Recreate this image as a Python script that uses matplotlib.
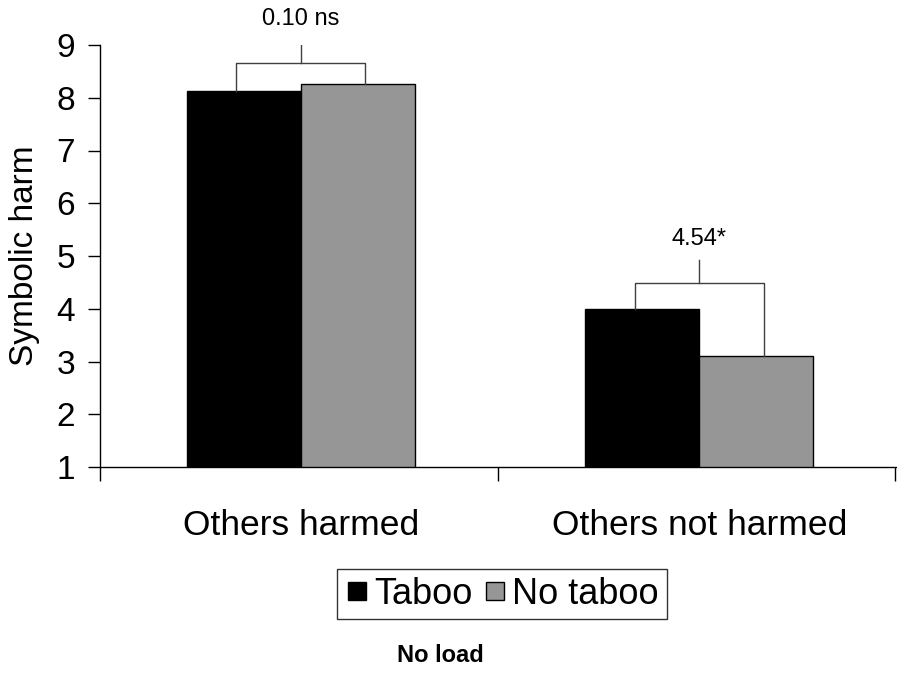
import matplotlib.pyplot as plt
from matplotlib.lines import Line2D

plt.rcParams['font.family'] = ['Liberation Sans', 'DejaVu Sans']

# datos
categorias = ["Others harmed", "Others not harmed"]
taboo = [8.12, 3.99]
no_taboo = [8.26, 3.11]
etiquetas_sig = ["0.10 ns", "4.54*"]
altura_corchete = [8.65, 4.49]
altura_tallo = [9.09, 4.92]
altura_texto = [9.5, 5.33]

fig = plt.figure(figsize=(8.97, 6.82), dpi=100)
ax = fig.add_axes([100 / 897, 1 - 467 / 682, 797 / 897, 422 / 682])

ancho = 0.286
x = [0, 1]
ax.bar([i - ancho / 2 for i in x], taboo, ancho, color="black",
       edgecolor="black", linewidth=1, label="Taboo")
ax.bar([i + ancho / 2 for i in x], no_taboo, ancho, color="#969696",
       edgecolor="black", linewidth=1, label="No taboo")

# corchetes de significancia
off = 0.162
for i in range(2):
    xl, xr = x[i] - off, x[i] + off
    ax.plot([xl, xl, xr, xr], [taboo[i], altura_corchete[i], altura_corchete[i], no_taboo[i]],
            color="#404040", linewidth=1)
    ax.plot([x[i], x[i]], [altura_corchete[i], altura_tallo[i]], color="#404040", linewidth=1)
    ax.text(x[i], altura_texto[i], etiquetas_sig[i], ha="center", va="center",
            fontsize=17, clip_on=False)

ax.set_xlim(-0.504, 1.496)
ax.set_ylim(1, 9)
ax.set_yticks(range(1, 10))
ax.tick_params(axis="y", labelsize=24, direction="out", length=9, width=1, pad=9)
ax.set_xticks(x)
ax.set_xticklabels(categorias, fontsize=25.5)
ax.tick_params(axis="x", which="major", length=0, pad=30)
ax.set_xticks([-0.504, 0.495, 1.49], minor=True)
ax.tick_params(axis="x", which="minor", length=10, width=1, direction="out")
ax.set_ylabel("Symbolic harm", fontsize=24, labelpad=12)

ax.spines["top"].set_visible(False)
ax.spines["right"].set_visible(False)
ax.spines["left"].set_linewidth(1)
ax.spines["bottom"].set_linewidth(1)

handles = [Line2D([], [], marker="s", linestyle="none", markersize=13,
                  markerfacecolor="black", markeredgecolor="black"),
           Line2D([], [], marker="s", linestyle="none", markersize=13,
                  markerfacecolor="#969696", markeredgecolor="black")]
leg = fig.legend(handles, ["Taboo", "No taboo"], loc="center",
                 bbox_to_anchor=(502 / 897, 1 - 594 / 682), ncol=2, fontsize=26,
                 frameon=True, fancybox=False, edgecolor="black",
                 handletextpad=0.15, columnspacing=0.3, handlelength=0.65,
                 borderpad=0.22, borderaxespad=0)
leg.get_frame().set_linewidth(1)

fig.text(440 / 897, 1 - 656 / 682, "No load", ha="center", va="center",
         fontsize=17, fontweight="bold")

fig.savefig("out.png", dpi=100)
